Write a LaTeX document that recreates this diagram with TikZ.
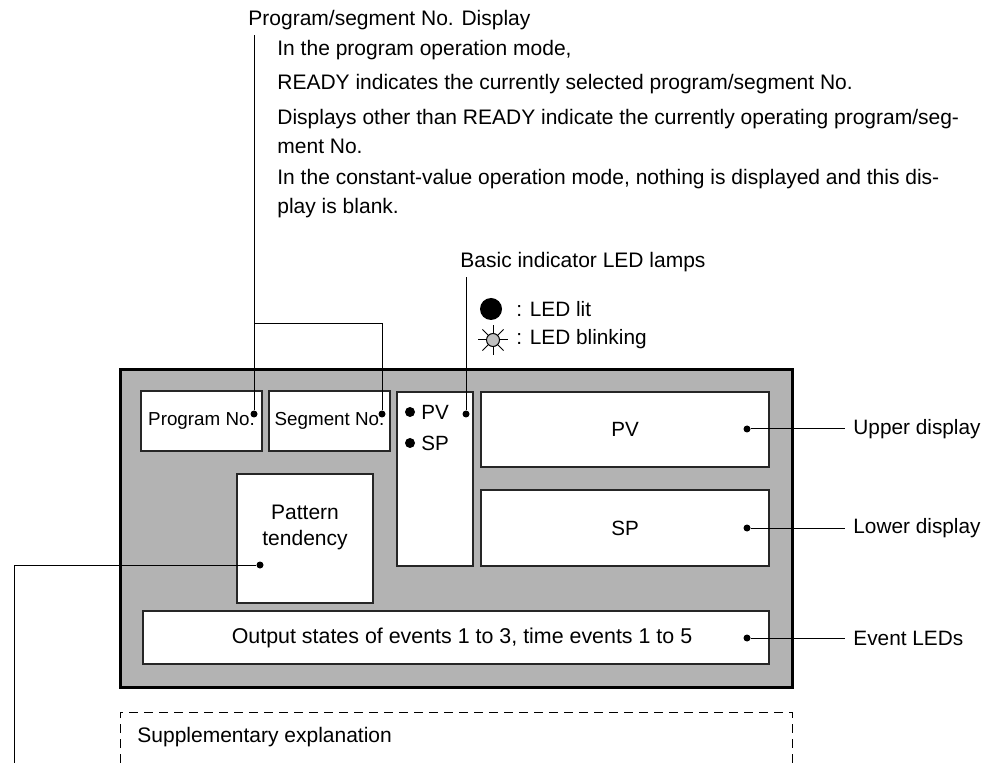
\documentclass[tikz,border=0pt]{standalone}
\usepackage{fontspec}
\setmainfont{Liberation Sans}
\usetikzlibrary{positioning}
\definecolor{panelgray}{RGB}{179,179,179}
\definecolor{blinkgray}{RGB}{192,192,192}
\tikzset{
  txt/.style={inner sep=0pt, font=\fontsize{10.5}{14.5}\selectfont, align=left},
  lbl/.style={txt, inner xsep=4pt, anchor=west},
  box/.style={rectangle, draw=black!85, line width=0.6pt, fill=white, inner sep=0pt, font=\fontsize{9.4}{13}\selectfont, align=center},
  panel/.style={rectangle, draw, line width=1.5pt, fill=panelgray, inner sep=0pt},
  lead/.style={line width=0.5pt},
  tip/.style={circle, fill, inner sep=0pt, minimum size=3.5pt},
  lamp/.style={circle, fill, inner sep=0pt, minimum size=5pt}
}

\begin{document}
\begin{tikzpicture}[x=0.5pt, y=-0.5pt]
\useasboundingbox (0,0) rectangle (988,763);

% front panel
\node[panel, minimum width=336pt, minimum height=158.5pt] (front) at (456,528.5) {};
\node[box, minimum width=60.5pt, minimum height=30pt] (prog) at (201.5,421) {Program No.};
\node[box, minimum width=60.5pt, minimum height=30pt] (seg) at (329.5,421) {Segment No.};
\node[box, minimum width=38pt, minimum height=87pt] (led) at (435,479) {};
\node[box, minimum width=144pt, minimum height=37.5pt, font=\fontsize{10.3}{13}\selectfont] (pv) at (625,429.5) {PV};
\node[box, minimum width=144pt, minimum height=38pt, font=\fontsize{10.3}{13}\selectfont] (sp) at (625,528) {SP};
\node[box, minimum width=68pt, minimum height=64.5pt] (pat) at (305,538.5) {};
\node[txt, align=center, font=\fontsize{10.5}{13}\selectfont] (pattxt) at (305,527) {Pattern\\tendency};
\node[box, minimum width=313pt, minimum height=26.5pt] (evt) at (456,637.5) {};
\node[txt, font=\fontsize{10.7}{13}\selectfont] (evttxt) at (462,638) {Output states of events 1 to 3, time events 1 to 5};

% lamps in the LED box
\node[lamp] (pvlamp) at (410,412) {};
\node[txt, anchor=west, font=\fontsize{10.3}{13}\selectfont] (pvtxt) at (421,412) {PV};
\node[lamp] (splamp) at (410,443) {};
\node[txt, anchor=west, font=\fontsize{10.3}{13}\selectfont] (sptxt) at (421,443) {SP};

% lead ends
\node[tip] (pdot) at (254,414) {};
\node[tip] (sdot) at (382,414) {};
\node[tip] (ldot) at (466,414) {};
\node[tip] (udot) at (747,429) {};
\node[tip] (wdot) at (747,528) {};
\node[tip] (edot) at (747,638) {};
\node[tip] (tdot) at (260,565) {};

% texts above
\node[txt, inner ysep=2.5pt, anchor=west] (title) at (248,20) {Program/segment No. Display};
\node[txt, anchor=west] (p1) at (277,50) {In the program operation mode,};
\node[txt, anchor=west] (p2) at (277,84) {READY indicates the currently selected program/segment No.};
\node[txt, anchor=west] (p3) at (277,131.5) {Displays other than READY indicate the currently operating program/seg-\\ment No.};
\node[txt, anchor=west] (p4) at (277,194) {In the constant-value operation mode, nothing is displayed and this dis-\\play is blank.};

\node[txt, inner ysep=2.5pt, anchor=west] (basic) at (460,262) {Basic indicator LED lamps};
\node[circle, fill, inner sep=0pt, minimum size=11pt] (litlamp) at (491,309) {};
\node[txt, anchor=west, font=\fontsize{10.4}{13}\selectfont] (littxt) at (516,309) {: LED lit};
\node[circle, draw, fill=blinkgray, line width=0.5pt, inner sep=0pt, minimum size=6.5pt] (blinklamp) at (493,340) {};
\foreach \a in {0,45,...,315}
  \draw[lead] (blinklamp.\a) -- ++(\a:4pt);
\node[txt, anchor=west, font=\fontsize{10.4}{13}\selectfont] (blinktxt) at (516,339) {: LED blinking};

% labels at the right
\node[lbl, font=\fontsize{10.4}{13}\selectfont] (upper) at (845,429) {Upper display};
\node[lbl, font=\fontsize{10.4}{13}\selectfont] (lower) at (845,528) {Lower display};
\node[lbl, font=\fontsize{10.4}{13}\selectfont] (evleds) at (845,638) {Event LEDs};

% leads
\coordinate (brk) at (254,324);
\draw[lead] (title.south -| pdot) -- (pdot);
\draw[lead] (brk) -| (sdot);
\draw[lead] (basic.south -| ldot) -- (ldot);
\draw[lead] (udot) -- (upper.west);
\draw[lead] (wdot) -- (lower.west);
\draw[lead] (edot) -- (evleds.west);
\coordinate (patend) at (14,763);
\draw[lead] (tdot) -| (patend);

% supplementary box
\draw[lead, dash pattern=on 4.5pt off 3pt] (120,763) |- (792,712) -- (792,763);
\node[txt, anchor=west] (supp) at (137,737) {Supplementary explanation};
\end{tikzpicture}
\end{document}
